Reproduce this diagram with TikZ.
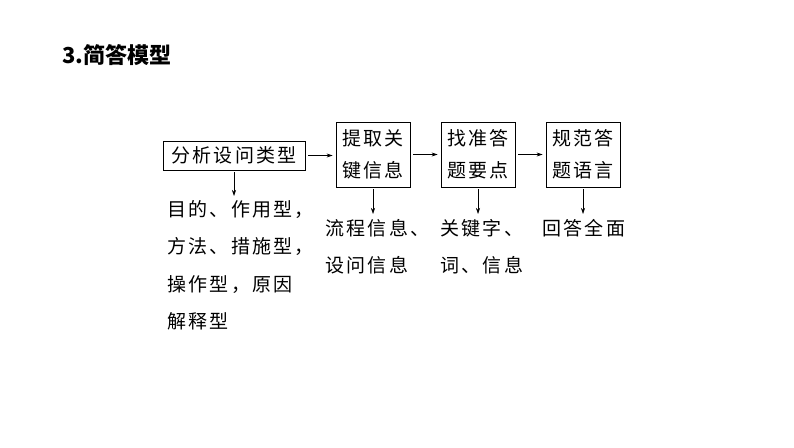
\documentclass[tikz,border=0pt]{standalone}
\usepackage{fontspec}
\setmainfont{Noto Sans CJK SC}
\newfontfamily\cjk[LetterSpace=12]{Noto Sans CJK SC}
\usetikzlibrary{positioning,arrows.meta}
\tikzset{
  stepbox/.style={draw, line width=0.9pt, align=center, inner sep=0pt,
    font=\fontsize{19}{32}\selectfont\cjk},
  notetext/.style={align=left, inner sep=0pt, anchor=north west,
    font=\fontsize{19}{37.5}\selectfont\cjk},
  go/.style={-{Stealth[length=6pt,width=4pt]}, line width=0.6pt}
}
\begin{document}
\begin{tikzpicture}[x=1pt,y=-1pt]
    \useasboundingbox (0,0) rectangle (794,447);
    %% title
    \node[anchor=west, inner sep=0pt, font=\fontsize{22}{22}\selectfont\bfseries] (title) at (62,55) {3.简答模型};
    %% steps
    \node[stepbox, minimum width=142, minimum height=29] (fx) at (234,155.5) {分析设问类型};
    \node[stepbox, minimum width=74, minimum height=65] (tq) at (373,154.5) {提取关\\键信息};
    \node[stepbox, minimum width=74, minimum height=65] (zz) at (478,154.5) {找准答\\题要点};
    \node[stepbox, minimum width=74, minimum height=65] (gf) at (583,154.5) {规范答\\题语言};
    \draw[go, shorten <=3pt, shorten >=3pt] (fx.east) -- (fx.east -| tq.west);
    \draw[go, shorten <=3pt, shorten >=3pt] (tq.east) -- (zz.west);
    \draw[go, shorten <=3pt, shorten >=3pt] (zz.east) -- (gf.west);
    %% what goes under each step
    \node[notetext] (fxn) at (167,200) {目的、作用型，\\方法、措施型，\\操作型，原因\\解释型};
    \node[notetext] (tqn) at (325,219) {流程信息、\\设问信息};
    \node[notetext] (zzn) at (440,219) {关键字、\\词、信息};
    \node[notetext] (gfn) at (542,219) {回答全面};
    \draw[go, shorten <=2pt, shorten >=4pt] (fx.south) -- (fx.south |- fxn.north);
    \draw[go, shorten <=2pt, shorten >=5pt] (tq.south) -- (tq.south |- tqn.north);
    \draw[go, shorten <=2pt, shorten >=5pt] (zz.south) -- (zz.south |- zzn.north);
    \draw[go, shorten <=2pt, shorten >=5pt] (gf.south) -- (gf.south |- gfn.north);
\end{tikzpicture}
\end{document}
